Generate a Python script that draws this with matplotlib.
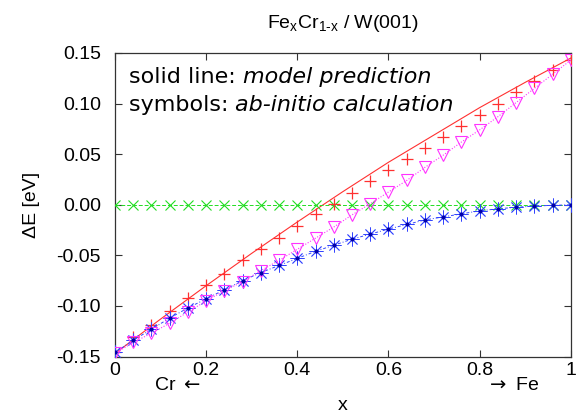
import matplotlib
matplotlib.use("Agg")
import matplotlib.pyplot as plt

plt.rcParams["font.family"] = ["Liberation Sans", "DejaVu Sans"]

# Fe concentration of the sampled configurations
x_frac = [0.00, 0.04, 0.08, 0.12, 0.16, 0.20, 0.24, 0.28, 0.32, 0.36, 0.40, 0.44, 0.48,
          0.52, 0.56, 0.60, 0.64, 0.68, 0.72, 0.76, 0.80, 0.84, 0.88, 0.92, 0.96, 1.00]

# ab-initio energies (eV)
de_plus = [-0.146, -0.131, -0.119, -0.105, -0.092, -0.079, -0.068, -0.055, -0.044,
           -0.033, -0.021, -0.009, 0.001, 0.012, 0.023, 0.034, 0.045, 0.056, 0.067,
           0.078, 0.089, 0.100, 0.111, 0.122, 0.133, 0.143]
de_cross = [0.0, 0.0, 0.0, 0.0, 0.0, 0.0, 0.0, 0.0, 0.0, 0.0, 0.0, 0.0, 0.0,
            0.0, 0.0, 0.0, 0.0, 0.0, 0.0, 0.0, 0.0, 0.0, 0.0, 0.0, 0.0, 0.0]
de_star = [-0.146, -0.134, -0.123, -0.112, -0.102, -0.093, -0.084, -0.075, -0.067,
           -0.060, -0.053, -0.046, -0.040, -0.034, -0.029, -0.024, -0.0195, -0.015,
           -0.012, -0.009, -0.006, -0.004, -0.0025, -0.0012, -0.0006, 0.0]
de_tri = [-0.147, -0.136, -0.127, -0.117, -0.106, -0.095, -0.085, -0.076, -0.065,
          -0.055, -0.044, -0.033, -0.022, -0.010, 0.001, 0.0126, 0.024, 0.037, 0.049,
          0.062, 0.074, 0.087, 0.101, 0.115, 0.129, 0.143]

# model prediction (solid line)
x_model = [0.0, 0.1, 0.2, 0.3, 0.4, 0.5, 0.6, 0.7, 0.8, 0.9, 1.0]
de_model = [-0.147, -0.113, -0.080, -0.048, -0.017, 0.013, 0.042, 0.069, 0.096, 0.121, 0.145]

x_ticks = [0, 0.2, 0.4, 0.6, 0.8, 1.0]
x_ticklabels = ["0", "0.2", "0.4", "0.6", "0.8", "1"]
y_ticks = [-0.15, -0.10, -0.05, 0.00, 0.05, 0.10, 0.15]

RED = "#ff3030"
GREEN = "#22dd22"
BLUE = "#3344ff"
MAGENTA = "#ff33ff"

fig = plt.figure(figsize=(5.77, 4.16), dpi=100)
ax = fig.add_axes([0.1993, 0.143, 0.790, 0.7296])

ax.plot(x_model, de_model, color=RED, lw=0.8, zorder=3)
ax.plot(x_frac, de_plus, ls="none", marker="+", ms=9, mew=0.9, color=RED, zorder=4)
ax.plot(x_frac, de_cross, ls=(0, (4, 2)), lw=0.7, marker="x", ms=7.5, mew=0.8,
        color=GREEN, zorder=3)
ax.plot(x_frac, de_star, ls=(0, (3, 2, 1, 2)), lw=0.7, marker=(8, 2, 0), ms=10,
        mew=0.6, color=BLUE, zorder=4)
ax.plot(x_frac, de_star, ls="none", marker="o", ms=2, color="#0000aa", zorder=5)
ax.plot(x_frac, de_tri, ls=(0, (1, 1.5)), lw=0.8, marker="v", ms=9, mew=0.8,
        mfc="none", color=MAGENTA, zorder=4)

ax.set_xlim(0, 1)
ax.set_ylim(-0.15, 0.15)
ax.set_xticks(x_ticks)
ax.set_xticklabels(x_ticklabels)
ax.set_yticks(y_ticks)
ax.set_yticklabels([f"{v:.2f}" for v in y_ticks])
ax.tick_params(direction="in", length=5, width=0.8, top=True, right=True,
               labelsize=14, color="#333333")
ax.tick_params(axis="x", pad=4)
ax.tick_params(axis="y", pad=10)
for s in ax.spines.values():
    s.set_linewidth(0.9)
    s.set_color("#333333")

ax.set_ylabel("ΔE [eV]", fontsize=14, labelpad=12)
ax.set_xlabel("x", fontsize=14, labelpad=13)
ax.set_title("Fe$_\\mathregular{x}$Cr$_\\mathregular{1\u2010x}$ / W(001)", fontsize=14, pad=18)

ax.text(0.03, 0.92, "solid line: ", transform=ax.transAxes, fontsize=16,
        family="DejaVu Sans", va="center", ha="left")
ax.text(0.03, 0.83, "symbols: ", transform=ax.transAxes, fontsize=16,
        family="DejaVu Sans", va="center", ha="left")
fig.canvas.draw()
r = fig.canvas.get_renderer()
t1 = ax.texts[0].get_window_extent(r)
t2 = ax.texts[1].get_window_extent(r)
inv = ax.transAxes.inverted()
ax.text(inv.transform((t1.x1, 0))[0], 0.92, "model prediction", transform=ax.transAxes,
        fontsize=16, family="DejaVu Sans", style="italic", va="center", ha="left")
ax.text(inv.transform((t2.x1, 0))[0], 0.83, "ab-initio calculation", transform=ax.transAxes,
        fontsize=16, family="DejaVu Sans", style="italic", va="center", ha="left")

fig.text(0.308, 0.073, "Cr $\\leftarrow$", fontsize=14, ha="center", va="center")
fig.text(0.888, 0.073, "$\\rightarrow$ Fe", fontsize=14, ha="center", va="center")

fig.savefig("out.png", dpi=100)
